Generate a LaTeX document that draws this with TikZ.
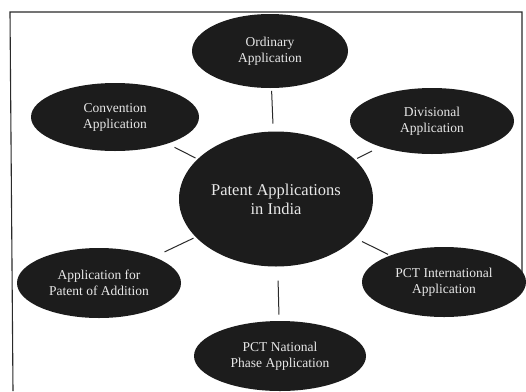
\documentclass[tikz,border=0pt]{standalone}
\usepackage{fontspec}
\setmainfont{Liberation Serif}
\usetikzlibrary{shapes.geometric,calc}
\definecolor{blobfill}{HTML}{1C1C1C}
\definecolor{blobtext}{HTML}{E8E8E8}
\definecolor{inkline}{HTML}{2A2A2A}
\tikzset{
  blob/.style={ellipse, fill=blobfill, draw=none, text=blobtext, align=center,
    inner sep=0pt, font=\fontsize{13.5}{16}\selectfont},
  hub/.style={blob, font=\fontsize{16.5}{19}\selectfont},
  link/.style={draw=inkline, line width=1pt},
  frame/.style={draw=inkline, line width=1.1pt}
}
\begin{document}
\begin{tikzpicture}[x=1pt,y=-1pt]
\useasboundingbox (0,0) rectangle (526,391);
\fill[white] (0,0) rectangle (526,391);
% frame
\coordinate (ftl) at (10,12);
\coordinate (ftr) at (522,12);
\coordinate (fbl) at (13,391);
\coordinate (fbr) at (522,275);
\draw[frame] (fbl) -- (ftl) -- (ftr) -- (fbr);
% nodes
\node[hub, minimum width=194pt, minimum height=135pt] (cen) at (276,199) {Patent Applications\\in India};
\node[blob, minimum width=156pt, minimum height=74pt] (ord) at (270,51) {Ordinary\\Application};
\node[blob, minimum width=168pt, minimum height=68pt] (conv) at (115,117) {Convention\\Application};
\node[blob, minimum width=164pt, minimum height=66pt] (div) at (432,121) {Divisional\\Application};
\node[blob, minimum width=164pt, minimum height=70pt] (add) at (99,283) {Application for\\Patent of Addition};
\node[blob, minimum width=164pt, minimum height=70pt] (pcti) at (444,282) {PCT International\\Application};
\node[blob, minimum width=172pt, minimum height=70pt] (pctn) at (280,356) {PCT National\\Phase Application};
% connectors
\draw[link] ($(ord)!0.27!(cen)$) -- ($(ord)!0.49!(cen)$);
\draw[link] ($(conv)!0.37!(cen)$) -- ($(conv)!0.50!(cen)$);
\draw[link] ($(div)!0.385!(cen)$) -- ($(div)!0.48!(cen)$);
\draw[link] ($(add)!0.37!(cen)$) -- ($(add)!0.534!(cen)$);
\draw[link] ($(cen)!0.512!(pcti)$) -- ($(cen)!0.667!(pcti)$);
\draw[link] ($(cen)!0.52!(pctn)$) -- ($(cen)!0.737!(pctn)$);
\end{tikzpicture}
\end{document}
